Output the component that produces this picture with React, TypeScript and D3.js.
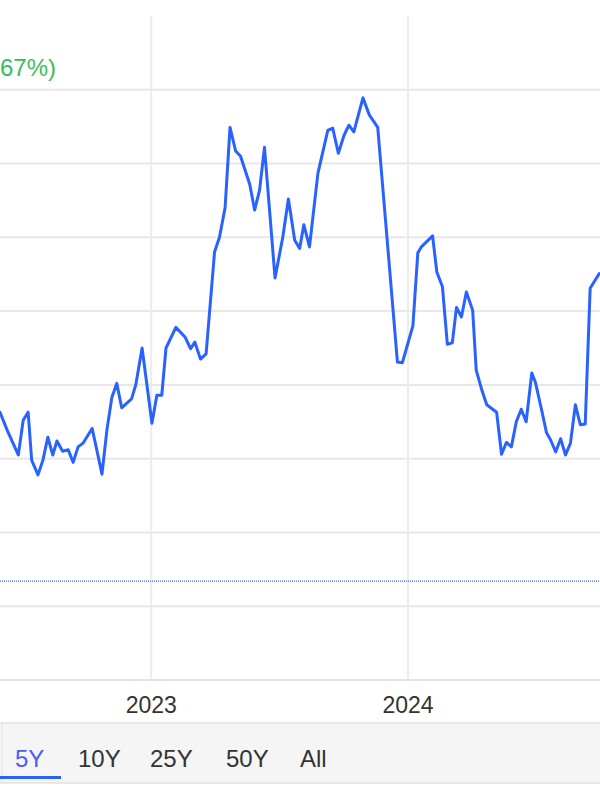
import React from "react";
import * as d3 from "d3";

const dates: string[] = [
  "2022-05-31","2022-06-10","2022-06-26","2022-07-03","2022-07-10","2022-07-15","2022-07-24","2022-07-31",
  "2022-08-07","2022-08-14","2022-08-20","2022-08-28","2022-09-05","2022-09-12","2022-09-19","2022-09-26",
  "2022-10-09","2022-10-23","2022-10-30","2022-11-06","2022-11-13","2022-11-20","2022-12-04","2022-12-10",
  "2022-12-19","2023-01-02","2023-01-09","2023-01-16","2023-01-22","2023-02-05","2023-02-18","2023-02-26",
  "2023-03-04","2023-03-12","2023-03-20","2023-04-01","2023-04-08","2023-04-16","2023-04-23","2023-05-01",
  "2023-05-08","2023-05-21","2023-05-28","2023-06-04","2023-06-11","2023-06-26","2023-07-07","2023-07-15",
  "2023-07-24","2023-07-31","2023-08-06","2023-08-14","2023-08-26","2023-09-09","2023-09-16","2023-09-24",
  "2023-10-02","2023-10-09","2023-10-16","2023-10-29","2023-11-07","2023-11-19","2023-12-17","2023-12-24",
  "2024-01-08","2024-01-15","2024-01-20","2024-02-05","2024-02-11","2024-02-19","2024-02-26","2024-03-04",
  "2024-03-10","2024-03-17","2024-03-24","2024-04-02","2024-04-07","2024-04-15","2024-04-22","2024-05-06",
  "2024-05-13","2024-05-20","2024-05-27","2024-06-03","2024-06-10","2024-06-17","2024-06-25","2024-06-30",
  "2024-07-09","2024-07-16","2024-07-22","2024-07-29","2024-08-05","2024-08-12","2024-08-19","2024-08-26",
  "2024-09-02","2024-09-09","2024-09-16","2024-09-29",
];

const values: number[] = [
  36.3, 33.9, 30.5, 35.2, 36.3, 29.8, 27.8, 29.8,
  32.9, 30.5, 32.4, 31.0, 31.2, 29.5, 31.6, 32.1,
  34.1, 27.9, 33.9, 38.3, 40.2, 36.9, 38.1, 40.0,
  45.0, 34.8, 38.6, 38.6, 45.0, 47.8, 46.5, 44.9,
  45.8, 43.5, 44.2, 58.0, 60.0, 64.0, 74.9, 71.7,
  71.0, 67.2, 63.7, 66.4, 72.2, 54.5, 60.0, 65.2,
  59.6, 58.5, 61.7, 58.7, 68.7, 74.5, 74.8, 71.4,
  73.8, 75.2, 74.3, 78.9, 76.6, 74.9, 43.1, 43.0,
  48.0, 57.9, 58.7, 60.2, 55.3, 53.3, 45.5, 45.7,
  50.5, 49.2, 52.6, 50.1, 42.0, 39.3, 37.3, 36.3,
  30.6, 32.2, 31.6, 35.0, 36.7, 35.0, 41.6, 40.4,
  36.6, 33.5, 32.5, 30.9, 32.7, 30.5, 32.1, 37.3,
  34.6, 34.7, 53.1, 55.1,
];

const yGridValues: number[] = [10, 20, 30, 40, 50, 60, 70, 80];
const referenceValue = 13.4;
const yearTicks: string[] = ["2023-01-01", "2024-01-01"];
const rangeTabs: string[] = ["5Y", "10Y", "25Y", "50Y", "All"];
const changeText = "67%)";

const W = 600;
const H = 800;
const top = 16;
const bottom = 680;
const FONT = "'Liberation Sans', Arial, Helvetica, sans-serif";

export default function App() {
  const parse = d3.utcParse("%Y-%m-%d");
  const data = dates.map((d, i) => ({ date: parse(d) as Date, value: values[i] }));

  const x = d3
    .scaleUtc()
    .domain([parse("2022-05-31") as Date, parse("2024-09-30") as Date])
    .range([0, W]);
  const y = d3.scaleLinear().domain([0, 90]).range([bottom, top]);

  const line = d3
    .line<{ date: Date; value: number }>()
    .x((d) => x(d.date))
    .y((d) => y(d.value));

  const tabX = [15, 78, 150, 226, 300];

  return (
    <svg
      width={W}
      height={H}
      viewBox={`0 0 ${W} ${H}`}
      style={{ position: "absolute", left: 0, top: 0, display: "block", background: "#fff" }}
    >
      <defs>
        <clipPath id="plot">
          <rect x={0} y={top} width={W} height={bottom - top} />
        </clipPath>
      </defs>

      {/* horizontal gridlines */}
      {yGridValues.map((v) => (
        <line key={v} x1={0} x2={W} y1={y(v)} y2={y(v)} stroke="#e8e8e8" strokeWidth={2} />
      ))}
      {/* vertical gridlines */}
      {yearTicks.map((t) => {
        const xx = x(parse(t) as Date);
        return <line key={t} x1={xx} x2={xx} y1={top} y2={bottom} stroke="#ececec" strokeWidth={2} />;
      })}
      {/* bottom axis line */}
      <line x1={0} x2={W} y1={bottom} y2={bottom} stroke="#e4e4e4" strokeWidth={2} />

      {/* reference dotted line */}
      <line
        x1={0}
        x2={W}
        y1={y(referenceValue)}
        y2={y(referenceValue)}
        stroke="#3b6cff"
        strokeWidth={1.5}
        strokeDasharray="1,1"
        opacity={0.85}
      />

      {/* price line */}
      <path
        d={line(data) || ""}
        fill="none"
        stroke="#2962ff"
        strokeWidth={3}
        strokeLinejoin="round"
        strokeLinecap="round"
        clipPath="url(#plot)"
      />

      {/* change text */}
      <text x={0} y={76} fontFamily={FONT} fontSize={24} fill="#3dbb5a">
        {changeText}
      </text>

      {/* year labels */}
      {yearTicks.map((t) => (
        <text
          key={t}
          x={x(parse(t) as Date)}
          y={713}
          textAnchor="middle"
          fontFamily={FONT}
          fontSize={23}
          fill="#333"
        >
          {t.slice(0, 4)}
        </text>
      ))}

      {/* range tab bar */}
      <rect x={0} y={723} width={W} height={60} fill="#f5f5f5" />
      <line x1={0} x2={W} y1={723} y2={723} stroke="#e2e2e2" strokeWidth={1.5} />
      <line x1={0} x2={W} y1={783} y2={783} stroke="#e2e2e2" strokeWidth={1.5} />
      <line x1={2} x2={2} y1={723} y2={783} stroke="#e2e2e2" strokeWidth={1} />
      <rect x={0} y={776} width={61} height={3} fill="#2962ff" />
      {rangeTabs.map((t, i) => (
        <text
          key={t}
          x={tabX[i]}
          y={767}
          fontFamily={FONT}
          fontSize={24}
          fill={i === 0 ? "#4a5ef0" : "#333"}
        >
          {t}
        </text>
      ))}
    </svg>
  );
}
